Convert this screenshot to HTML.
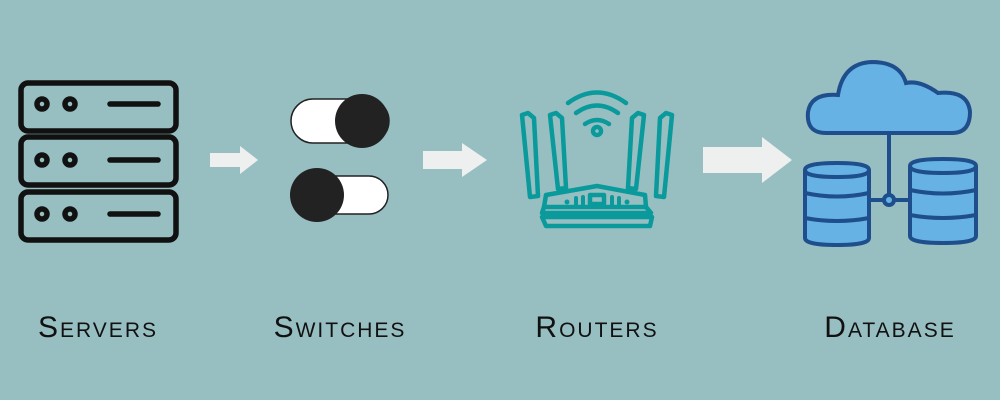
<!DOCTYPE html><html><head><style>
body{margin:0;width:1000px;height:400px;background:#97bfc2;overflow:hidden;position:relative;font-family:"Liberation Sans",sans-serif}
.l{position:absolute;top:311px;font-size:30px;font-variant:small-caps;letter-spacing:2px;color:#111;transform:translateX(-50%);white-space:nowrap}
</style></head><body>
<svg width="1000" height="400" style="position:absolute;left:0;top:0">
<g fill="none" stroke="#111" stroke-width="5.5" stroke-linecap="round">
<rect x="21" y="83" width="155" height="48" rx="7"/>
<rect x="21" y="137" width="155" height="48" rx="7"/>
<rect x="21" y="192" width="155" height="48" rx="7"/>
<circle cx="42" cy="104" r="5"/><circle cx="70" cy="104" r="5"/>
<circle cx="42" cy="160" r="5"/><circle cx="70" cy="160" r="5"/>
<circle cx="42" cy="214" r="5"/><circle cx="70" cy="214" r="5"/>
<line x1="110" y1="104" x2="158" y2="104"/><line x1="110" y1="160" x2="158" y2="160"/><line x1="110" y1="214" x2="158" y2="214"/>
</g>
<rect x="291" y="99" width="98" height="44" rx="22" fill="#fff" stroke="#222" stroke-width="1.5"/>
<circle cx="362" cy="121" r="27" fill="#222"/>
<rect x="291" y="176" width="97" height="38" rx="19" fill="#fff" stroke="#222" stroke-width="1.5"/>
<circle cx="317" cy="195" r="27" fill="#222"/>
<g fill="#eef0f0">
<polygon points="210,153 240,153 240,146 258,160 240,174 240,167 210,167"/>
<polygon points="423,151 462,151 462,143 487,160 462,177 462,169 423,169"/>
<polygon points="703,147 762,147 762,137 792,160 762,183 762,173 703,173"/>
</g>
<g fill="none" stroke="#0a9a9b" stroke-width="4.5" stroke-linejoin="round" stroke-linecap="round">
<path d="M568 103 Q597 82 626 103"/><path d="M576 113 Q597 98 618 113"/><path d="M585 124 Q597 116 609 124"/>
<circle cx="597" cy="131" r="4"/>
<path d="M522 115 L528 113 L534 118 L538 196 L530 197 Z"/>
<path d="M550 115 L556 113 L562 118 L566 188 L558 189 Z"/>
<path d="M672 115 L666 113 L660 118 L656 196 L664 197 Z"/>
<path d="M644 115 L638 113 L632 118 L628 188 L636 189 Z"/>
<path d="M546 195 L597 186 L645 195 L646 207 L544 207 Z"/>
<path d="M544 207 L542 213 L651 213 L646 207"/>
<path d="M542 217 L652 217 L650 226 L546 226 Z"/>
<rect x="590" y="195" width="14" height="9"/>
</g>
<g fill="#0a9a9b"><circle cx="567" cy="202" r="2.5"/><circle cx="627" cy="202" r="2.5"/><rect x="574" y="196" width="4" height="10" rx="2"/><rect x="581" y="195" width="4" height="11" rx="2"/><rect x="610" y="195" width="4" height="11" rx="2"/><rect x="617" y="196" width="4" height="10" rx="2"/></g>
<g stroke="#1f4e8c" stroke-width="4" fill="#67b2e4">
<path d="M826 133 Q806 133 808 112 Q811 93 838 95 Q843 63 872 62 Q900 62 906 83 Q920 80 938 93 Q968 90 970 112 Q970 133 952 133 Z"/>
<line x1="889" y1="133" x2="889" y2="195" fill="none"/>
<line x1="870" y1="200" x2="910" y2="200" fill="none"/>
<circle cx="889" cy="200" r="5"/>
<path d="M805 170 Q805 163 837 163 Q869 163 869 170 L869 238 Q869 245 837 245 Q805 245 805 238 Z"/>
<path d="M805 170 Q805 177 837 177 Q869 177 869 170" fill="none"/>
<path d="M805 193 Q837 200 869 193" fill="none"/><path d="M805 218 Q837 224 869 218" fill="none"/>
<path d="M910 166 Q910 159 943 159 Q976 159 976 166 L976 236 Q976 243 943 243 Q910 243 910 236 Z"/>
<path d="M910 166 Q910 173 943 173 Q976 173 976 166" fill="none"/>
<path d="M910 190 Q943 197 976 190" fill="none"/><path d="M910 215 Q943 221 976 215" fill="none"/>
</g>
</svg>
<div class="l" style="left:98px">Servers</div>
<div class="l" style="left:340px">Switches</div>
<div class="l" style="left:597px">Routers</div>
<div class="l" style="left:890px">Database</div>
</body></html>
